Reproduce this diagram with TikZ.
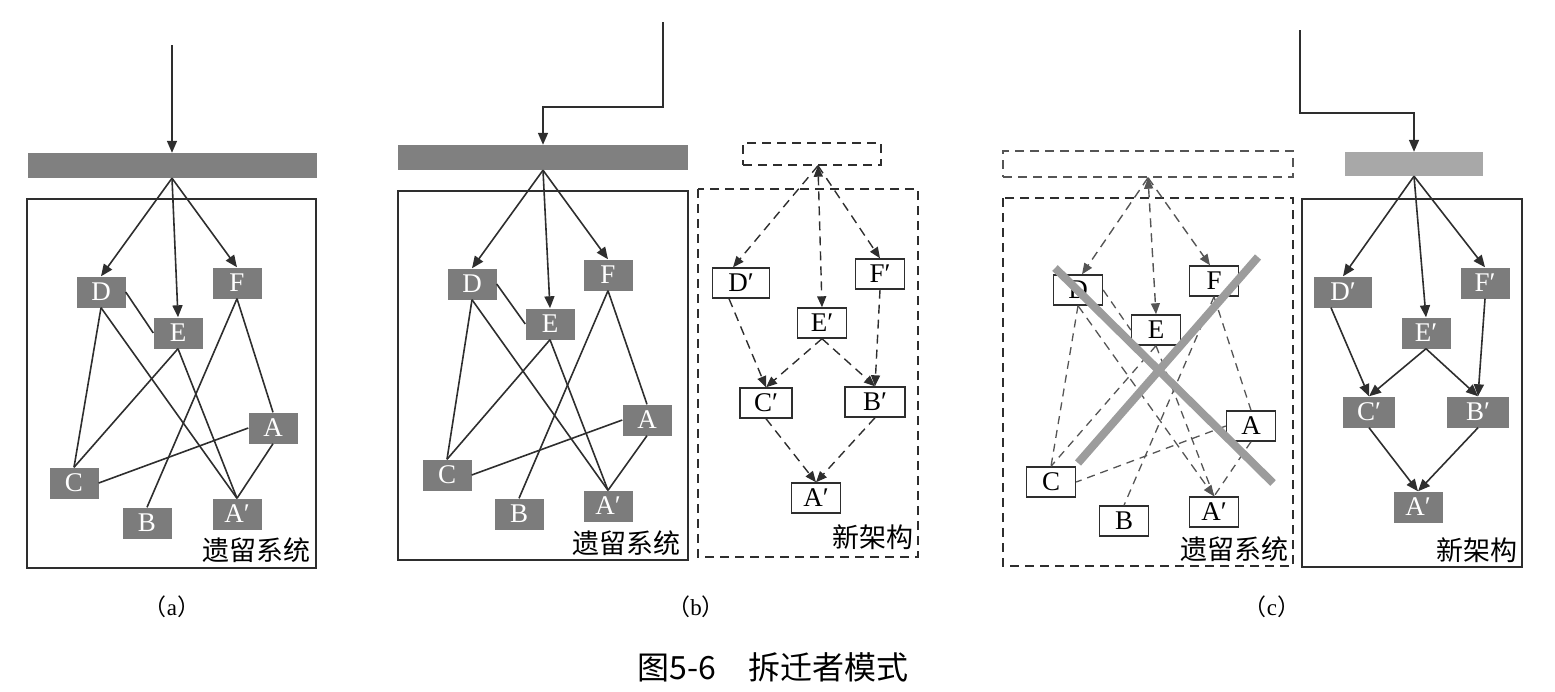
\documentclass[tikz,border=0pt]{standalone}
\usepackage{fontspec}
\setmainfont{Liberation Serif}
\newfontfamily\cjk{Noto Sans CJK SC}
\usetikzlibrary{arrows.meta}
\definecolor{boxgray}{HTML}{7C7C7C}
\definecolor{bargray}{HTML}{808080}
\definecolor{lightbar}{HTML}{A8A8A8}
\definecolor{xgray}{HTML}{9C9C9C}
\definecolor{ink}{HTML}{2E2E2E}
\definecolor{dashink}{HTML}{555555}
\begin{document}
\begin{tikzpicture}[x=1pt,y=-1pt,
  gnode/.style={fill=boxgray,text=white,minimum width=49pt,minimum height=31pt,inner sep=0pt,font=\fontsize{27}{27}\selectfont},
  wnode/.style={draw=ink,fill=white,line width=1.4pt,minimum width=49pt,minimum height=30pt,inner sep=0pt,font=\fontsize{27}{27}\selectfont},
  barbox/.style={fill=bargray,inner sep=0pt},
  dbox/.style={draw=dashink,line width=1.4pt,dash pattern=on 9pt off 6pt,inner sep=0pt},
  frm/.style={draw=ink,line width=1.7pt},
  dfrm/.style={draw=ink,line width=1.6pt,dash pattern=on 9pt off 6pt},
  edge/.style={draw=ink,line width=1.6pt},
  arr/.style={draw=ink,line width=1.6pt,-{Triangle[length=12pt,width=10pt]}},
  darr/.style={draw=ink,line width=1.4pt,dash pattern=on 9pt off 6pt,-{Triangle[length=11pt,width=9pt]}},
  dedge/.style={draw=dashink,line width=1.3pt,dash pattern=on 8pt off 6pt},
  xline/.style={draw=xgray,line width=8pt},
  lab/.style={inner sep=0pt,font=\cjk\fontsize{27}{27}\selectfont},
  sub/.style={inner sep=0pt,font=\fontsize{23}{23}\selectfont}
]
\useasboundingbox (0,0) rectangle (1555,691);

% ================= (a) =================
\node[barbox,minimum width=289pt,minimum height=25pt] (barA) at (172,165.5) {};
\coordinate (inA) at (172,45);
\draw[arr] (inA) -- (barA.north);
\draw[frm] (27,199) rectangle (316,568);
\node[gnode] (Da) at (101,292) {D};
\node[gnode] (Ea) at (178,333) {E};
\node[gnode] (Fa) at (237,283) {F};
\node[gnode] (Aa) at (273,428) {A};
\node[gnode] (Ca) at (74,483) {C};
\node[gnode] (Ba) at (147,523) {B};
\node[gnode] (Apa) at (237,514) {A′};
\draw[arr] (barA.south) -- (Da.north);
\draw[arr] (barA.south) -- (Ea.north);
\draw[arr] (barA.south) -- (Fa.north);
\draw[edge] (Da.east) -- (Ea.west);
\draw[edge] (Da.south) -- (Ca.north);
\draw[edge] (Da.south) -- (Apa.north);
\draw[edge] (Ea.south) -- (Ca.north);
\draw[edge] (Ea.south) -- (Apa.north);
\draw[edge] (Fa.south) -- (Ba.north);
\draw[edge] (Fa.south) -- (Aa.north);
\draw[edge] (Aa.west) -- (Ca.east);
\draw[edge] (Aa.south) -- (Apa.north);
\node[lab] (labA) at (256,550) {遗留系统};
\node[sub] (capA) at (172,607) {{\cjk （}a{\cjk ）}};

% ================= (b) legacy =================
\node[barbox,minimum width=290pt,minimum height=25pt] (barB) at (543,157.5) {};
\coordinate (inB) at (663,22);
\draw[arr] (inB) -- (663,107) -| (barB.north);
\draw[frm] (398,191) rectangle (688,560);
\node[gnode] (Db) at (472,284) {D};
\node[gnode] (Eb) at (550,324) {E};
\node[gnode] (Fb) at (608,275) {F};
\node[gnode] (Ab) at (647,420) {A};
\node[gnode] (Cb) at (447,475) {C};
\node[gnode] (Bb) at (519,514) {B};
\node[gnode] (Apb) at (608,506) {A′};
\draw[arr] (barB.south) -- (Db.north);
\draw[arr] (barB.south) -- (Eb.north);
\draw[arr] (barB.south) -- (Fb.north);
\draw[edge] (Db.east) -- (Eb.west);
\draw[edge] (Db.south) -- (Cb.north);
\draw[edge] (Db.south) -- (Apb.north);
\draw[edge] (Eb.south) -- (Cb.north);
\draw[edge] (Eb.south) -- (Apb.north);
\draw[edge] (Fb.south) -- (Bb.north);
\draw[edge] (Fb.south) -- (Ab.north);
\draw[edge] (Ab.west) -- (Cb.east);
\draw[edge] (Ab.south) -- (Apb.north);
\node[lab] (labB) at (626,543) {遗留系统};

% ================= (b) new =================
\node[dbox,draw=ink,minimum width=138pt,minimum height=22pt] (topB) at (812,154) {};
\draw[dfrm] (698,189) rectangle (918,557);
\node[wnode,minimum width=57pt] (Dpb) at (741,283) {D′};
\node[wnode] (Epb) at (822,323) {E′};
\node[wnode] (Fpb) at (880,274) {F′};
\node[wnode,minimum width=52pt] (Cpb) at (766,403) {C′};
\node[wnode,minimum width=60pt] (Bpb) at (875,402) {B′};
\node[wnode] (Apb2) at (816,498) {A′};
\draw[darr,{Triangle[length=11pt,width=9pt]}-{Triangle[length=11pt,width=9pt]}] ([xshift=6pt]topB.south) -- (Epb.north);
\draw[darr] ([xshift=6pt]topB.south) -- ([xshift=-8pt]Dpb.north);
\draw[darr] ([xshift=6pt]topB.south) -- (Fpb.north);
\draw[darr] ([xshift=-12pt]Dpb.south) -- (Cpb.north);
\draw[darr] (Epb.south) -- (Cpb.north);
\draw[darr] (Epb.south) -- (Bpb.north);
\draw[darr] (Fpb.south) -- (Bpb.north);
\draw[darr] (Cpb.south) -- (Apb2.north);
\draw[darr] (Bpb.south) -- (Apb2.north);
\node[lab] (labBn) at (873,537) {新架构};
\node[sub] (capB) at (696,607) {{\cjk （}b{\cjk ）}};

% ================= (c) legacy =================
\node[dbox,minimum width=290pt,minimum height=26pt] (topC) at (1148,164) {};
\draw[dfrm] (1003,198) rectangle (1293,566);
\node[wnode] (Dc) at (1078,290) {D};
\node[wnode] (Ec) at (1156,330) {E};
\node[wnode] (Fc) at (1214,281) {F};
\node[wnode] (Ac) at (1251,426) {A};
\node[wnode] (Cc) at (1051,482) {C};
\node[wnode] (Bc) at (1124,521) {B};
\node[wnode] (Apc) at (1214,512) {A′};
\draw[darr,draw=dashink,{Triangle[length=11pt,width=9pt]}-{Triangle[length=11pt,width=9pt]}] (topC.south) -- (Ec.north);
\draw[darr,draw=dashink] (topC.south) -- ([xshift=4pt]Dc.north);
\draw[darr,draw=dashink] (topC.south) -- ([xshift=-4pt]Fc.north);
\draw[dedge] (Dc.east) -- (Ec.west);
\draw[dedge] (Dc.south) -- (Cc.north);
\draw[darr,draw=dashink,line width=1.3pt] (Dc.south) -- (Apc.north);
\draw[dedge] (Ec.south) -- (Cc.north);
\draw[dedge] (Ec.south) -- (Apc.north);
\draw[dedge] (Fc.south) -- (Bc.north);
\draw[dedge] (Fc.south) -- (Ac.north);
\draw[dedge] (Ac.west) -- (Cc.east);
\draw[dedge] (Ac.south) -- (Apc.north);
\node[lab] (labC) at (1234,549) {遗留系统};
\coordinate (x1a) at (1055,268);
\coordinate (x1b) at (1273,483);
\coordinate (x2a) at (1258,257);
\coordinate (x2b) at (1078,463);
\draw[xline] (x1a) -- (x1b);
\draw[xline] (x2a) -- (x2b);

% ================= (c) new =================
\node[barbox,fill=lightbar,minimum width=138pt,minimum height=24pt] (barC) at (1414,164) {};
\coordinate (inC) at (1300,30);
\draw[arr] (inC) -- (1300,113) -| (barC.north);
\draw[frm] (1302,199) rectangle (1522,567);
\node[gnode,minimum width=58pt] (Dpc) at (1343,292) {D′};
\node[gnode] (Epc) at (1426,333) {E′};
\node[gnode] (Fpc) at (1485,283) {F′};
\node[gnode,minimum width=52pt] (Cpc) at (1369,412) {C′};
\node[gnode,minimum width=62pt] (Bpc) at (1478,412) {B′};
\node[gnode] (Apc2) at (1418,507) {A′};
\draw[arr] (barC.south) -- (Dpc.north);
\draw[arr] (barC.south) -- (Epc.north);
\draw[arr] (barC.south) -- (Fpc.north);
\draw[arr] ([xshift=-12pt]Dpc.south) -- (Cpc.north);
\draw[arr] (Epc.south) -- (Cpc.north);
\draw[arr] (Epc.south) -- (Bpc.north);
\draw[arr] (Fpc.south) -- (Bpc.north);
\draw[arr] (Cpc.south) -- (Apc2.north);
\draw[arr] (Bpc.south) -- (Apc2.north);
\node[lab] (labCn) at (1477,550) {新架构};
\node[sub] (capC) at (1272,607) {{\cjk （}c{\cjk ）}};

% ================= caption =================
\node[inner sep=0pt,font=\cjk\fontsize{32}{32}\selectfont] (cap) at (773,667) {图5-6\hspace{1em}拆迁者模式};
\end{tikzpicture}
\end{document}
